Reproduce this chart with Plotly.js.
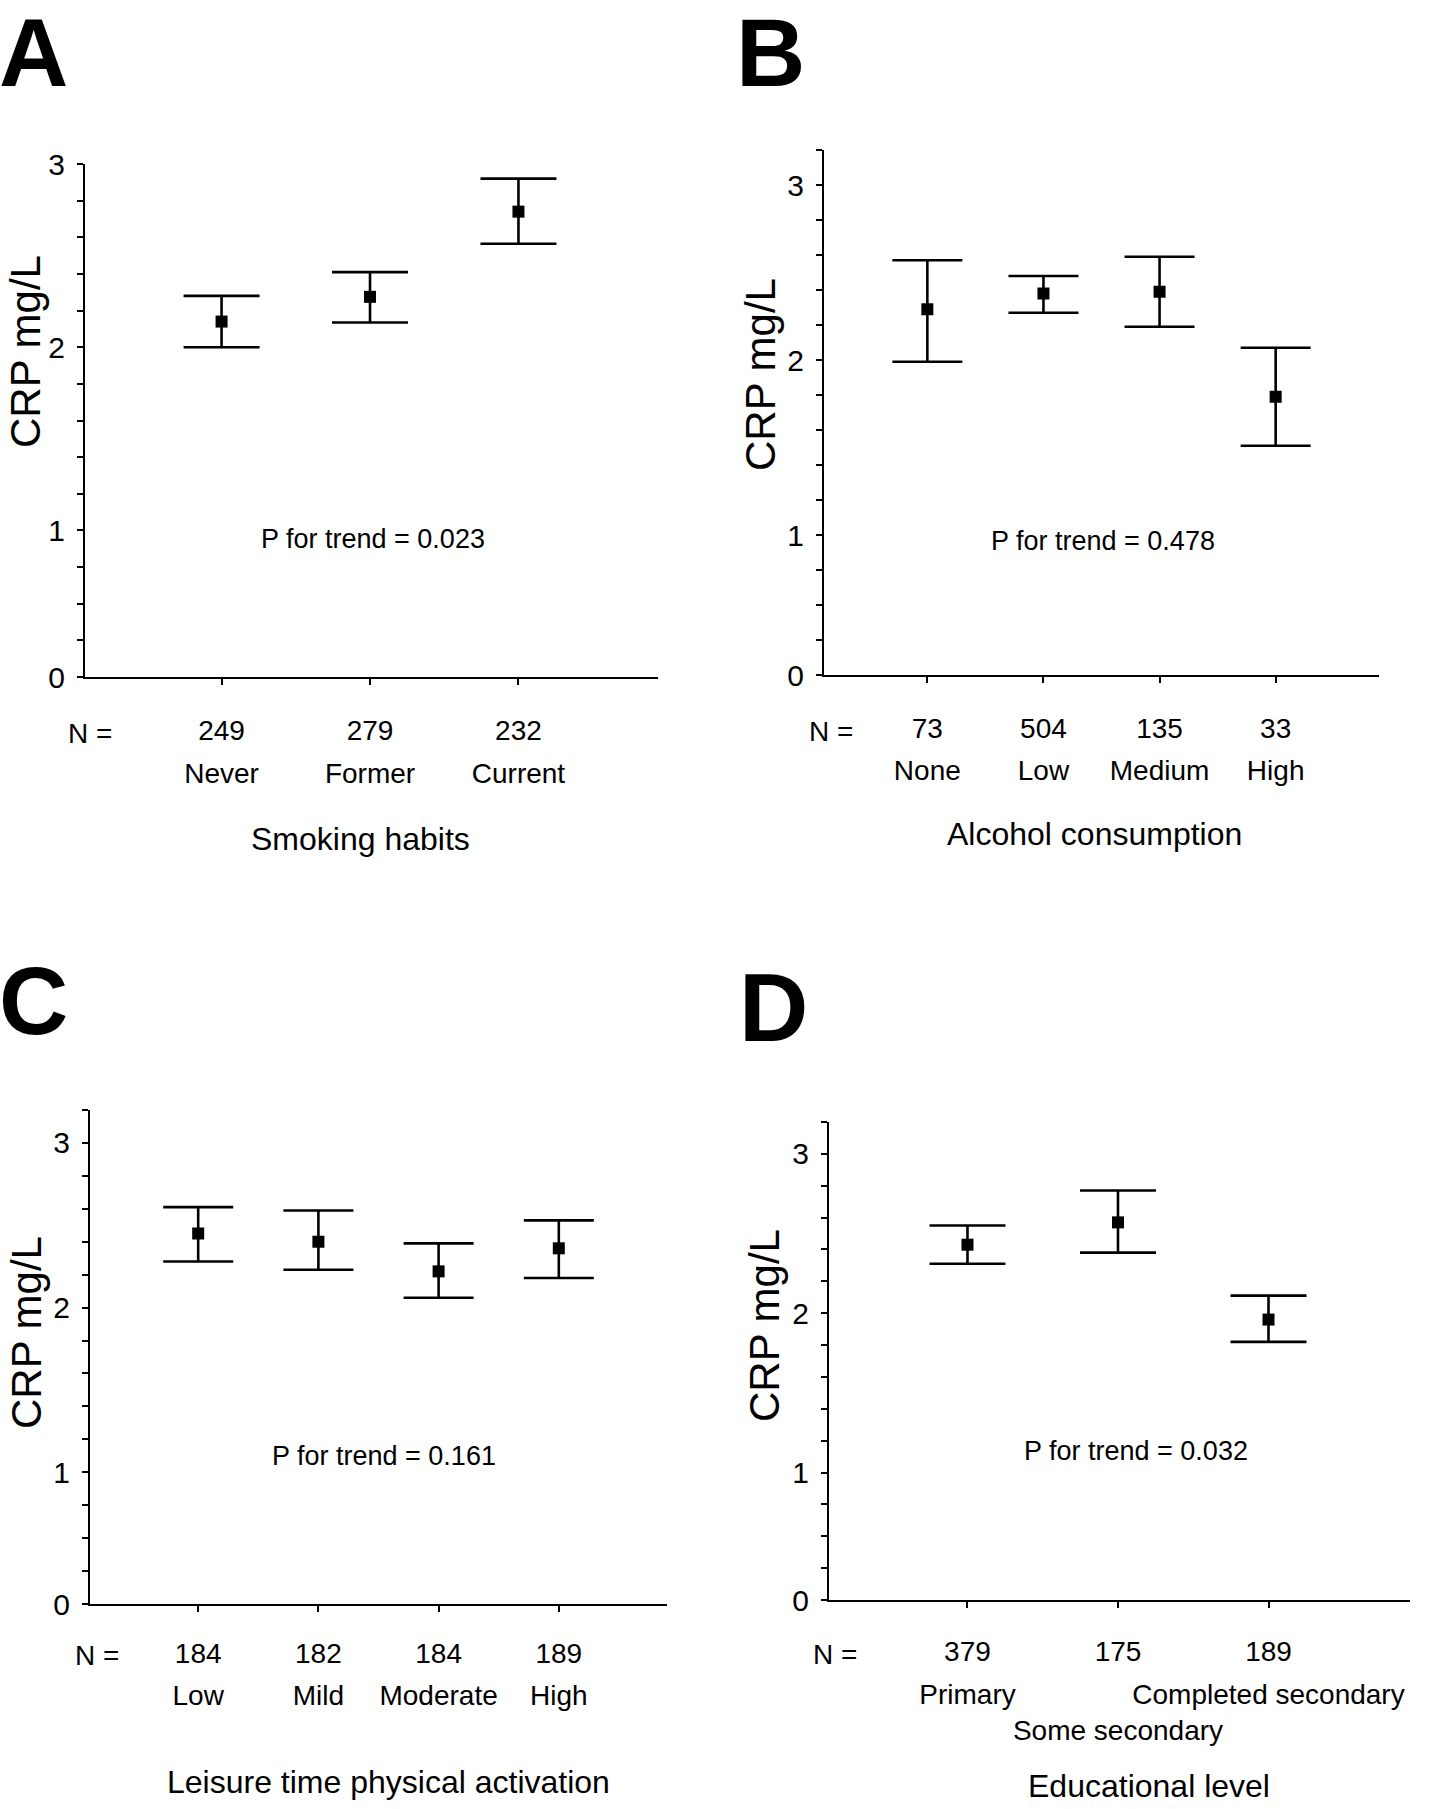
<!DOCTYPE html>
<html>
<head>
<meta charset="utf-8">
<script src="https://cdn.plot.ly/plotly-3.0.1.min.js"></script>
<style>html,body{margin:0;padding:0;background:#fff;}#chart{width:1431px;height:1809px;}</style>
</head>
<body>
<div id="chart"></div>
<script>
// ---- Data ----
const catA = ['Never', 'Former', 'Current'];
const nA = [249, 279, 232];
const meanA = [2.14, 2.275, 2.74];
const lowA = [2.00, 2.135, 2.565];
const upA = [2.28, 2.41, 2.92];

const catB = ['None', 'Low', 'Medium', 'High'];
const nB = [73, 504, 135, 33];
const meanB = [2.29, 2.38, 2.39, 1.79];
const lowB = [1.99, 2.27, 2.19, 1.51];
const upB = [2.57, 2.48, 2.59, 2.07];

const catC = ['Low', 'Mild', 'Moderate', 'High'];
const nC = [184, 182, 184, 189];
const meanC = [2.45, 2.40, 2.22, 2.36];
const lowC = [2.28, 2.23, 2.06, 2.18];
const upC = [2.61, 2.59, 2.39, 2.53];

const catD = ['Primary', 'Some secondary', 'Completed secondary'];
const rowD = [0, 1, 0];
const nD = [379, 175, 189];
const meanD = [2.43, 2.57, 1.96];
const lowD = [2.31, 2.38, 1.82];
const upD = [2.55, 2.77, 2.11];

const panelLetters = ['A', 'B', 'C', 'D'];
const xTitles = ['Smoking habits', 'Alcohol consumption', 'Leisure time physical activation', 'Educational level'];
const pTexts = ['P for trend = 0.023', 'P for trend = 0.478', 'P for trend = 0.161', 'P for trend = 0.032'];
const yTitle = 'CRP mg/L';
const yTickVals = [0.2, 1, 2, 3];
const yTickText = ['0', '1', '2', '3'];

// ---- Rendering ----
const W = 1431, H = 1809;
const FONT = "'Liberation Sans', Arial, sans-serif";
const LBL = 28;   // tick-label / N= size
const TTL = 32;   // x title size

const panels = [
  {cat: catA, n: nA, mean: meanA, low: lowA, up: upA, rows: null,
   px: [85, 658], py: [164, 677], xr: [0.08, 3.94], yr: [0.2, 3.0], cap: 38, sN: 21, sC: 77},
  {cat: catB, n: nB, mean: meanB, low: lowB, up: upB, rows: null,
   px: [824, 1379], py: [150, 675], xr: [0.11, 4.89], yr: [0.2, 3.2], cap: 35, sN: 21, sC: 76},
  {cat: catC, n: nC, mean: meanC, low: lowC, up: upC, rows: null,
   px: [90, 667], py: [1110, 1604], xr: [0.1, 4.9], yr: [0.2, 3.2], cap: 35, sN: 17, sC: 72},
  {cat: catD, n: nD, mean: meanD, low: lowD, up: upD, rows: rowD,
   px: [829, 1410], py: [1122, 1600], xr: [0.08, 3.94], yr: [0.2, 3.2], cap: 38, sN: 19, sC: 75}
];

const letterPos = [[33, 53], [771, 53], [33, 1000], [773, 1007]];
const xTitlePos = [[360, 839], [1094, 834], [388, 1782], [1149, 1786]];
const pPos = [[373, 539], [1103, 541], [384, 1456], [1136, 1451]];
const yTitlePos = [[25, 352], [760, 375], [26, 1333], [764, 1326]];
const nEqPos = [[90, 733], [831, 731], [97, 1655], [835, 1654]];

const data = [];
const layout = {
  width: W, height: H,
  margin: {l: 0, r: 0, t: 0, b: 0},
  paper_bgcolor: '#fff', plot_bgcolor: '#fff',
  showlegend: false,
  annotations: []
};

const fx = v => v / W;
const fy = v => 1 - v / H;

panels.forEach((p, i) => {
  const k = i === 0 ? '' : String(i + 1);
  const kc = String(i + 5);   // overlay axis carrying the category names
  const xs = p.cat.map((_, j) => j + 1);
  data.push({
    type: 'scatter', mode: 'markers',
    x: xs, y: p.mean,
    xaxis: 'x' + k, yaxis: 'y' + k,
    marker: {symbol: 'square', size: 12, color: '#000'},
    error_y: {
      type: 'data', symmetric: false,
      array: p.up.map((u, j) => u - p.mean[j]),
      arrayminus: p.mean.map((m, j) => m - p.low[j]),
      color: '#000', thickness: 2.6, width: p.cap
    },
    hoverinfo: 'none'
  });
  const dom = [fx(p.px[0]), fx(p.px[1])];
  layout['xaxis' + k] = {
    domain: dom,
    anchor: 'y' + k,
    range: p.xr,
    tickmode: 'array', tickvals: xs, ticktext: p.n.map(String),
    tickangle: 0,
    ticks: 'outside', ticklen: 6, tickwidth: 2, tickcolor: '#000',
    ticklabelstandoff: p.sN,
    tickfont: {family: FONT, size: LBL, color: '#000'},
    showline: true, linecolor: '#000', linewidth: 2,
    showgrid: false, zeroline: false, fixedrange: true
  };
  layout['xaxis' + kc] = {
    domain: dom,
    overlaying: 'x' + k,
    anchor: 'y' + k,
    side: 'bottom',
    range: p.xr,
    tickmode: 'array', tickvals: xs,
    ticktext: p.cat.map((c, j) => ((p.rows && p.rows[j]) ? '<br>' : '') + c),
    tickangle: 0,
    ticks: '',
    ticklabelstandoff: p.sC,
    tickfont: {family: FONT, size: LBL, color: '#000'},
    showline: false, showgrid: false, zeroline: false, fixedrange: true
  };
  data.push({
    type: 'scatter', mode: 'markers', x: xs, y: p.mean,
    xaxis: 'x' + kc, yaxis: 'y' + k,
    marker: {size: 1, opacity: 0}, hoverinfo: 'none', showlegend: false
  });
  layout['yaxis' + k] = {
    domain: [fy(p.py[1]), fy(p.py[0])],
    anchor: 'x' + k,
    range: p.yr,
    tickmode: 'array', tickvals: yTickVals, ticktext: yTickText,
    ticks: 'outside', ticklen: 6, tickwidth: 2, tickcolor: '#000',
    ticklabelstandoff: 6,
    tickfont: {family: FONT, size: 30, color: '#000'},
    minor: {tickmode: 'linear', tick0: 0, dtick: 0.2, ticks: 'outside', ticklen: 6, tickwidth: 2, tickcolor: '#000', showgrid: false},
    showline: true, linecolor: '#000', linewidth: 2,
    showgrid: false, zeroline: false, fixedrange: true
  };

  const A = layout.annotations;
  A.push({text: '<b>' + panelLetters[i] + '</b>', xref: 'paper', yref: 'paper',
    x: fx(letterPos[i][0]), y: fy(letterPos[i][1]), xanchor: 'center', yanchor: 'middle',
    showarrow: false, font: {family: FONT, size: 96, color: '#000'}});
  A.push({text: xTitles[i], xref: 'paper', yref: 'paper',
    x: fx(xTitlePos[i][0]), y: fy(xTitlePos[i][1]), xanchor: 'center', yanchor: 'middle',
    showarrow: false, font: {family: FONT, size: TTL, color: '#000'}});
  A.push({text: pTexts[i], xref: 'paper', yref: 'paper',
    x: fx(pPos[i][0]), y: fy(pPos[i][1]), xanchor: 'center', yanchor: 'middle',
    showarrow: false, font: {family: FONT, size: 27, color: '#000'}});
  A.push({text: yTitle, xref: 'paper', yref: 'paper', textangle: -90,
    x: fx(yTitlePos[i][0]), y: fy(yTitlePos[i][1]), xanchor: 'center', yanchor: 'middle',
    showarrow: false, font: {family: FONT, size: 42, color: '#000'}});
  A.push({text: 'N =', xref: 'paper', yref: 'paper',
    x: fx(nEqPos[i][0]), y: fy(nEqPos[i][1]), xanchor: 'center', yanchor: 'middle',
    showarrow: false, font: {family: FONT, size: LBL, color: '#000'}});
});

Plotly.newPlot('chart', data, layout, {staticPlot: true, displayModeBar: false});
</script>
</body>
</html>
